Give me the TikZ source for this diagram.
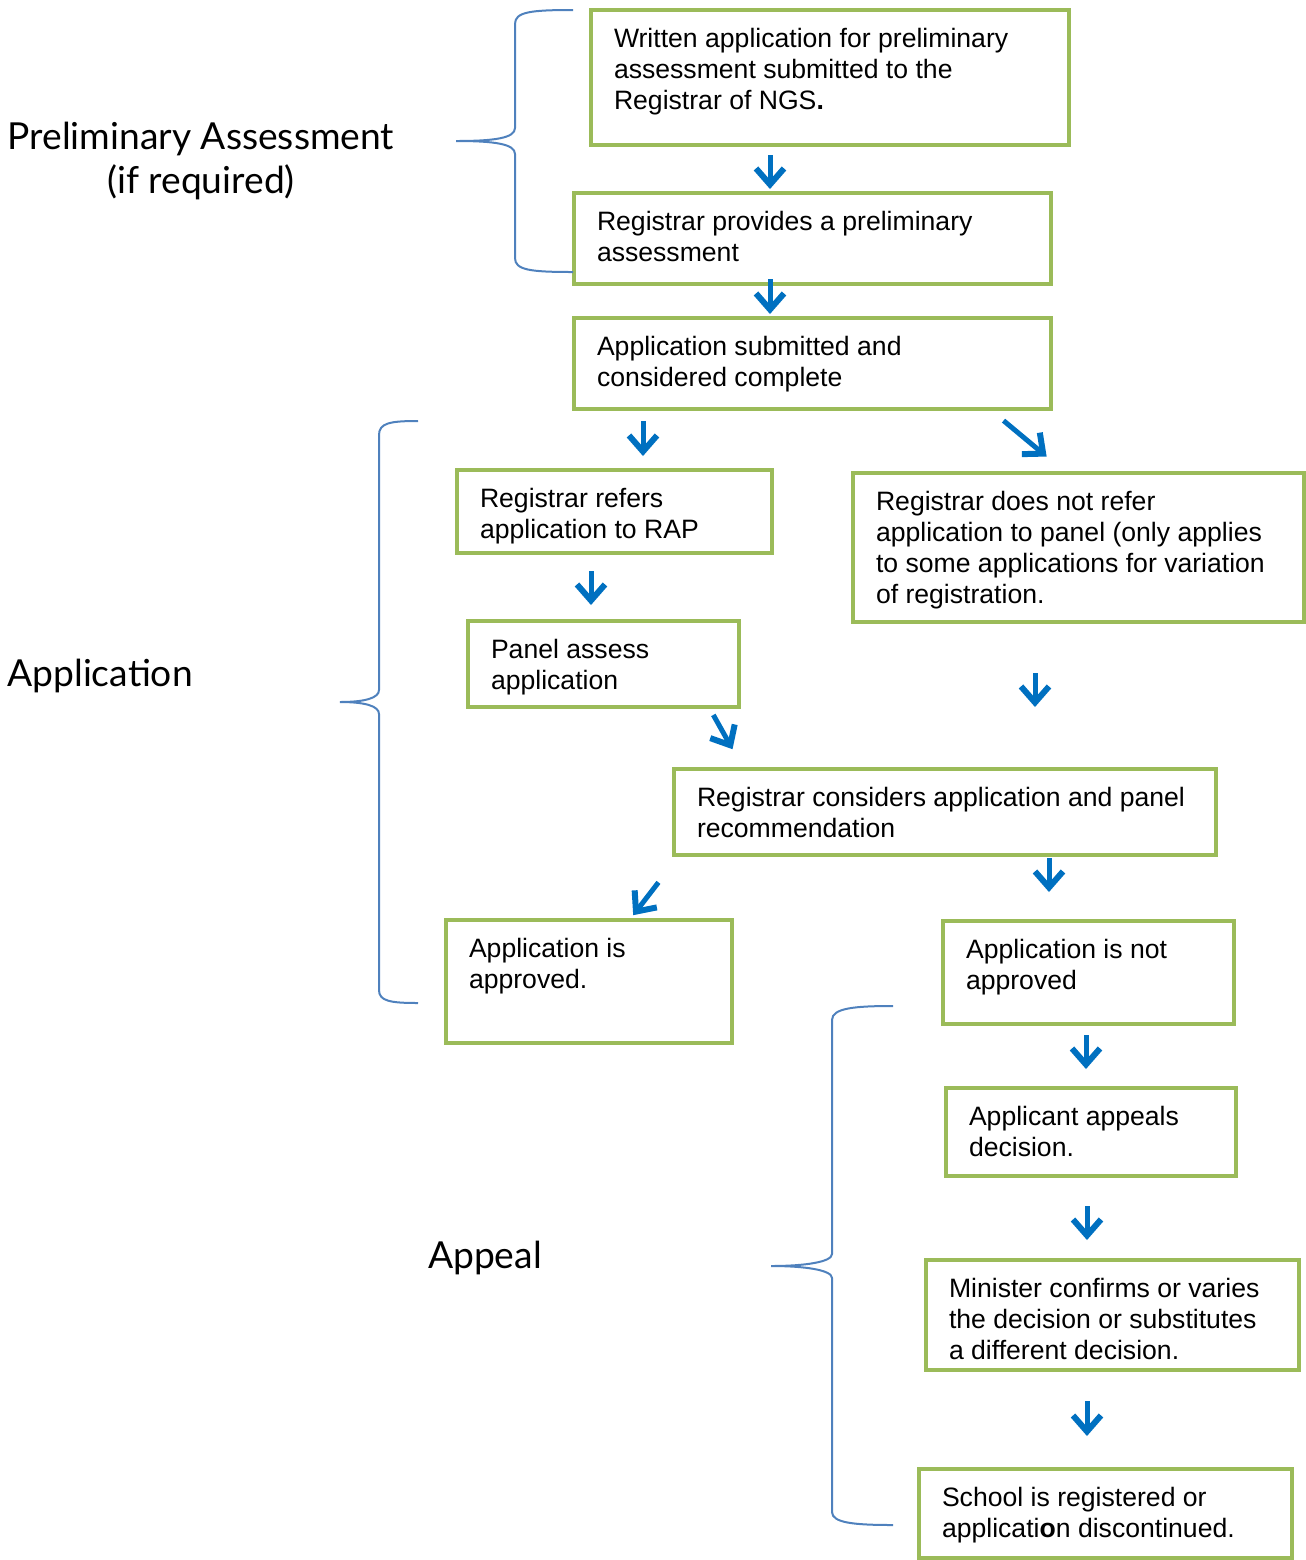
\documentclass[tikz,border=0pt]{standalone}
\usepackage{fontspec}
\setmainfont{Liberation Sans}
\newfontfamily\labelfont{Lato}
\usetikzlibrary{arrows.meta}

\definecolor{boxgreen}{HTML}{9BBB59}
\definecolor{arrowblue}{HTML}{0070C0}
\definecolor{braceblue}{HTML}{4F81BD}
\newcommand{\boxfont}{\fontsize{13.3}{15.5}\selectfont}

\tikzset{
  box/.style 2 args={draw=boxgreen, line width=2pt, anchor=north west,
    inner xsep=11.5pt, inner ysep=9pt,
    execute at begin node={\begin{minipage}[t][#2][t]{#1}\raggedright\boxfont},
    execute at end node={\end{minipage}}},
  flow/.style={draw=arrowblue, line width=2.5pt,
    -{Straight Barb[length=8pt,width=14pt,line width=3pt]}},
  gap/.style 2 args={shorten <=#1, shorten >=#2},
  curly/.style={draw=braceblue, line width=1pt},
  sidelabel/.style={font=\labelfont\fontsize{18.6}{22}\selectfont, inner sep=0pt}
}

\begin{document}
\begin{tikzpicture}[x=0.5pt,y=-0.5pt]
  \useasboundingbox (0,0) rectangle (1306,1560);
  % boxes
  \node[box={216pt}{49.5pt}]   (wr) at (589,8)    {Written application for preliminary\\assessment submitted to the\\Registrar of NGS\textbf{.}};
  \node[box={215.5pt}{27.5pt}] (rp) at (572,191)  {Registrar provides a preliminary\\assessment};
  \node[box={215.5pt}{27.5pt}] (as) at (572,316)  {Application submitted and\\considered complete};
  \node[box={134.5pt}{23.5pt}] (rr) at (455,468)  {Registrar refers\\application to RAP};
  \node[box={202.5pt}{56.5pt}] (nr) at (851,471)  {Registrar does not refer\\application to panel (only applies\\to some applications for variation\\of registration.};
  \node[box={112.5pt}{25pt}]   (pa) at (466,619)  {Panel assess\\application};
  \node[box={248pt}{25pt}]     (rc) at (672,767)  {Registrar considers application and panel\\recommendation};
  \node[box={120pt}{43.5pt}]   (ok) at (444,918)  {Application is\\approved.};
  \node[box={122.5pt}{33.5pt}] (no) at (941,919)  {Application is not\\approved};
  \node[box={122pt}{26pt}]     (ap) at (944,1086) {Applicant appeals\\decision.};
  \node[box={163.5pt}{37pt}]   (mi) at (924,1258) {Minister confirms or varies\\the decision or substitutes\\a different decision.};
  \node[box={163.5pt}{26.5pt}] (sc) at (917,1467) {School is registered or\\applicati\textbf{o}n discontinued.};

  % side labels
  \node[sidelabel, align=center] (pre) at (201,161) {Preliminary Assessment\\(if required)};
  \node[sidelabel, anchor=west]  (apl) at (7,676)   {Application};
  \node[sidelabel]               (apg) at (485,1258) {Appeal};

  % braces
  \draw[curly] (573,10) .. controls (530,10) and (515,12) .. (515,24) -- (515,128)
    .. controls (515,138) and (495,141) .. (456,141)
    .. controls (495,141) and (515,144) .. (515,154) -- (515,258)
    .. controls (515,270) and (530,272) .. (573,272);
  \draw[curly] (418,421) .. controls (390,421) and (379,423) .. (379,435) -- (379,690)
    .. controls (379,698) and (365,702) .. (340,702)
    .. controls (365,702) and (379,706) .. (379,714) -- (379,990)
    .. controls (379,1001) and (390,1003) .. (418,1003);
  \draw[curly] (893,1006) .. controls (855,1006) and (832,1008) .. (832,1020) -- (832,1254)
    .. controls (832,1262) and (805,1266) .. (771,1266)
    .. controls (805,1266) and (832,1270) .. (832,1278) -- (832,1512)
    .. controls (832,1523) and (855,1525) .. (893,1525);

  % arrows
  \draw[flow, gap={4pt}{1pt}]      (wr.south -| 770,0)  -- (rp.north -| 770,0);
  \draw[flow, gap={-3.5pt}{1pt}]   (rp.south -| 770,0)  -- (as.north -| 770,0);
  \draw[flow, gap={5pt}{6pt}]      (as.south -| 643,0)  -- (rr.north -| 643,0);
  \draw[flow, gap={7.5pt}{11.3pt}] (as.south -| 992,0)  -- (nr.north -| 1064,0);
  \draw[flow, gap={8pt}{7pt}]      (rr.south -| 591,0)  -- (pa.north -| 591,0);
  \draw[flow, gap={24.5pt}{30pt}]  (nr.south -| 1035,0) -- (rc.north -| 1035,0);
  \draw[flow, gap={3.4pt}{10.2pt}] (pa.south -| 710,0)  -- (rc.north -| 742.5,0);
  \draw[flow, gap={0.5pt}{13.5pt}] (rc.south -| 1049,0) -- (no.north -| 1049,0);
  \draw[flow, gap={16pt}{1.8pt}]   (rc.south -| 678,0)  -- (ok.north -| 631,0);
  \draw[flow, gap={4.5pt}{8.5pt}]  (no.south -| 1086,0) -- (ap.north -| 1086,0);
  \draw[flow, gap={14pt}{9pt}]     (ap.south -| 1087,0) -- (mi.north -| 1087,0);
  \draw[flow, gap={14.5pt}{15.5pt}] (mi.south -| 1087,0) -- (sc.north -| 1087,0);
\end{tikzpicture}
\end{document}
